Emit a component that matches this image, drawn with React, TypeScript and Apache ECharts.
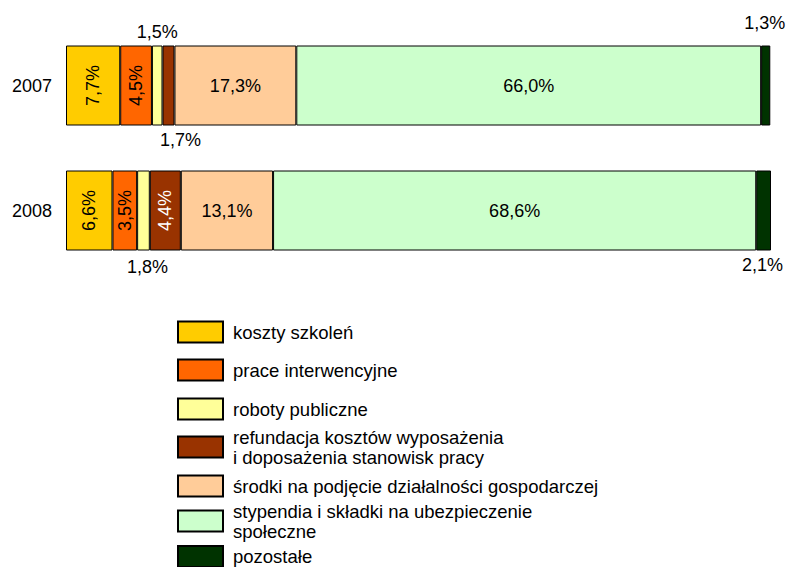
import React, { useEffect, useRef } from "react";
import * as echarts from "echarts";

const years = ["2007", "2008"];
const seriesNames = [
  "koszty szkoleń",
  "prace interwencyjne",
  "roboty publiczne",
  "refundacja kosztów wyposażenia\ni doposażenia stanowisk pracy",
  "środki na podjęcie działalności gospodarczej",
  "stypendia i składki na ubezpieczenie\nspołeczne",
  "pozostałe",
];
const koszty = [7.7, 6.6];
const prace = [4.5, 3.5];
const roboty = [1.5, 1.8];
const refundacja = [1.7, 4.4];
const srodki = [17.3, 13.1];
const stypendia = [66.0, 68.6];
const pozostale = [1.3, 2.1];
const values = [koszty, prace, roboty, refundacja, srodki, stypendia, pozostale];

const colors = ["#FFCC00", "#FF6600", "#FFFF99", "#993300", "#FFCC99", "#CCFFCC", "#003300"];

const FONT = "'Liberation Sans', Arial, sans-serif";

// label style per [series][year]
const V = { position: "inside", rotate: 90 };
const H = { position: "inside", rotate: 0 };
const labelStyles: any[][] = [
  [V, V],
  [V, V],
  [{ position: "top" }, { position: "bottom", offset: [4, 2] }],
  [{ position: "bottom", offset: [12, 0] }, { position: "inside", rotate: 90, color: "#fff" }],
  [H, H],
  [H, H],
  [{ position: "top", offset: [-1, -9] }, { position: "bottom", offset: [-1, 0] }],
];

const legendCenters = [331, 369, 408, 447, 485, 521, 555.5];

const fmt = (v: number) => v.toFixed(1).replace(".", ",") + "%";

export default function App() {
  const ref = useRef<HTMLDivElement>(null);
  useEffect(() => {
    if (!ref.current) return;
    const chart = echarts.init(ref.current, null, { renderer: "svg" });
    const series = seriesNames.map((name, si) => ({
      name,
      type: "bar",
      stack: "total",
      barWidth: 80,
      itemStyle: { color: colors[si], borderColor: "#000", borderWidth: 1 },
      label: {
        show: true,
        fontSize: 18,
        fontFamily: FONT,
        color: "#000",
        formatter: (p: any) => fmt(p.value),
      },
      data: values[si].map((v, yi) => ({
        value: v,
        label: { show: true, ...labelStyles[si][yi] },
      })),
    }));
    const legends = seriesNames.map((name, i) => {
      const twoLine = name.includes("\n");
      return {
        data: [name],
        left: 177,
        top: legendCenters[i] - (twoLine ? 20 : 10.5),
        padding: 0,
        itemWidth: 45,
        itemHeight: 21,
        icon: "rect",
        selectedMode: false,
        textStyle: {
          fontSize: 18.5,
          lineHeight: 20,
          fontFamily: FONT,
          color: "#000",
          padding: [0, 0, 0, 5],
        },
      };
    });
    chart.setOption({
      animation: false,
      backgroundColor: "#fff",
      grid: { left: 66, right: 15, top: 23, height: 250, containLabel: false },
      xAxis: {
        type: "value",
        min: 0,
        max: "dataMax",
        show: false,
        splitLine: { show: false },
      },
      yAxis: {
        type: "category",
        data: years,
        inverse: true,
        axisLine: { show: false },
        axisTick: { show: false },
        axisLabel: { fontSize: 18, fontFamily: FONT, color: "#000", margin: 14 },
      },
      legend: legends,
      series,
    });
    return () => chart.dispose();
  }, []);
  return (
    <div
      ref={ref}
      style={{ position: "fixed", left: 0, top: 0, width: 786, height: 567 }}
    />
  );
}
